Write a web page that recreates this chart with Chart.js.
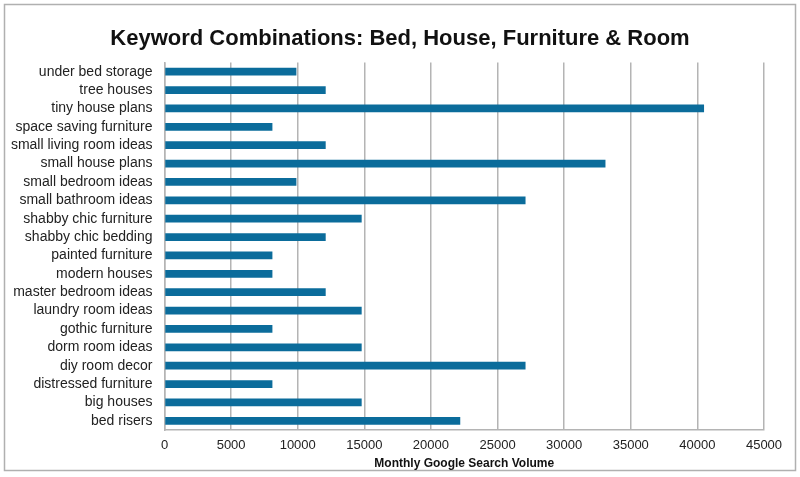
<!DOCTYPE html>
<html>
<head>
<meta charset="utf-8">
<script src="https://cdn.jsdelivr.net/npm/chart.js@4"></script>
<style>
    html, body { margin: 0; padding: 0; background: #fff; }
    #box { width: 800px; height: 477px; }
</style>
</head>
<body>
<div id="box"><canvas id="grafico" width="800" height="477"></canvas></div>
<script>
let keywords = [
    'under bed storage', 'tree houses', 'tiny house plans', 'space saving furniture',
    'small living room ideas', 'small house plans', 'small bedroom ideas', 'small bathroom ideas',
    'shabby chic furniture', 'shabby chic bedding', 'painted furniture', 'modern houses',
    'master bedroom ideas', 'laundry room ideas', 'gothic furniture', 'dorm room ideas',
    'diy room decor', 'distressed furniture', 'big houses', 'bed risers'
]
let volume = [
    9900, 12100, 40500, 8100,
    12100, 33100, 9900, 27100,
    14800, 12100, 8100, 8100,
    12100, 14800, 8100, 14800,
    27100, 8100, 14800, 22200
]
let xMin = 0
let xMax = 45000
let xStep = 5000

let fonte = "'Liberation Sans', Arial, Helvetica, sans-serif"
let corGrade = '#b4b4b4'

// moldura cinza em volta do grafico
let moldura = {
    id: 'moldura',
    beforeDraw(chart) {
        let ctx = chart.ctx
        ctx.save()
        ctx.fillStyle = '#fff'
        ctx.fillRect(0, 0, chart.width, chart.height)
        ctx.strokeStyle = '#b0b0b0'
        ctx.lineWidth = 1.5
        ctx.strokeRect(4.5, 4.5, 791, 466)
        ctx.restore()
    }
}

let ctx = document.getElementById('grafico').getContext('2d')
new Chart(ctx, {
    type: 'bar',
    data: {
        labels: keywords,
        datasets: [{
            label: 'Monthly Google Search Volume',
            data: volume,
            backgroundColor: '#0b6c9b',
            borderWidth: 0,
            barPercentage: 0.42,
            categoryPercentage: 1
        }]
    },
    options: {
        indexAxis: 'y',
        responsive: false,
        animation: false,
        layout: { padding: { left: 0, right: 0, top: 0, bottom: 6 } },
        plugins: {
            legend: { display: false },
            tooltip: { enabled: false },
            title: {
                display: true,
                text: 'Keyword Combinations: Bed, House, Furniture & Room',
                color: '#111',
                font: { family: fonte, size: 22, weight: 'bold', lineHeight: 1.2 },
                padding: { top: 25.8, bottom: 10.3 }
            }
        },
        scales: {
            x: {
                min: xMin,
                max: xMax,
                ticks: {
                    stepSize: xStep,
                    color: '#222',
                    padding: 8,
                    font: { family: fonte, size: 13 },
                    callback: (v) => String(v)
                },
                grid: { color: corGrade, lineWidth: 1.5, drawTicks: false },
                border: { color: corGrade, width: 1.5 },
                title: {
                    display: true,
                    text: 'Monthly Google Search Volume',
                    color: '#111',
                    font: { family: fonte, size: 12, weight: 'bold', lineHeight: 1.2 },
                    padding: { top: 0, bottom: 0 }
                },
                afterFit(scale) { scale.height = 41 }
            },
            y: {
                ticks: {
                    color: '#222',
                    padding: 12,
                    autoSkip: false,
                    font: { family: fonte, size: 14 }
                },
                grid: { display: false, drawTicks: false },
                border: { color: corGrade, width: 1.5 },
                afterFit(scale) { scale.width = 164.5 }
            },
            // eixo vazio a direita so para reservar espaco
            direita: {
                type: 'linear',
                position: 'right',
                ticks: { display: false },
                grid: { display: false, drawTicks: false },
                border: { display: false },
                afterFit(scale) { scale.width = 36 }
            }
        }
    },
    plugins: [moldura]
})
</script>
</body>
</html>
